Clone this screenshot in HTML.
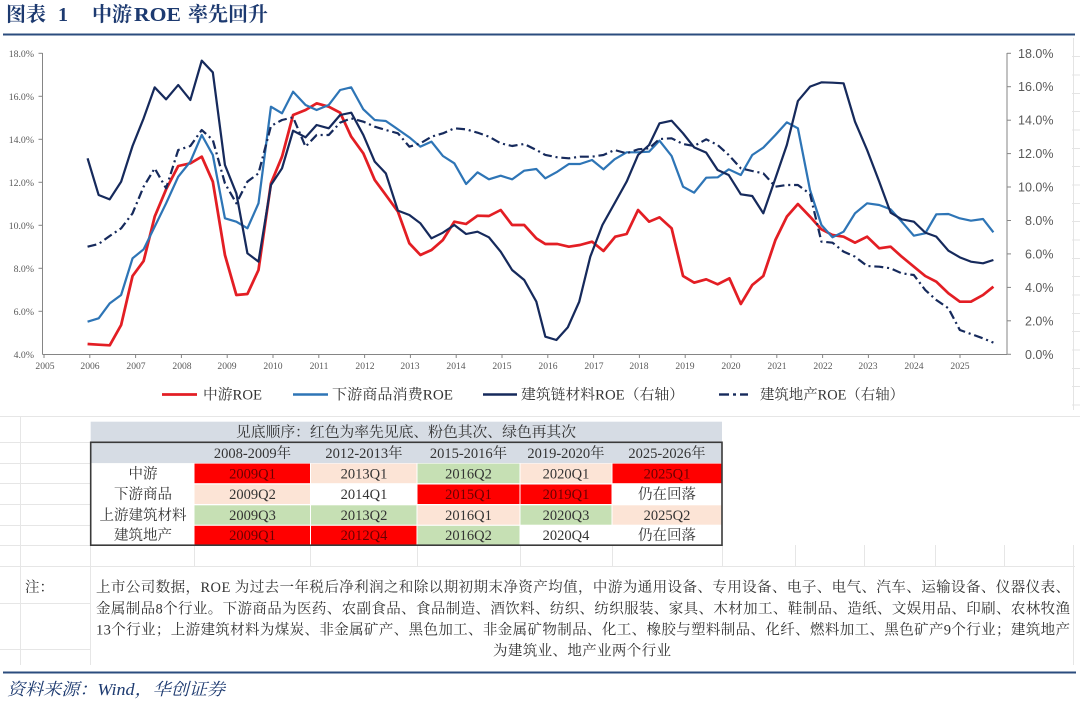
<!DOCTYPE html>
<html><head><meta charset="utf-8">
<style>
html,body{margin:0;padding:0;background:#fff;width:1080px;height:710px;overflow:hidden}
svg{display:block}
</style></head>
<body>
<svg width="1080" height="710" viewBox="0 0 1080 710" xmlns="http://www.w3.org/2000/svg">
<rect x="0" y="0" width="1080" height="710" fill="#fff"/>

<!-- Title -->
<g font-family="'Liberation Serif','Noto Serif CJK SC',serif" font-weight="bold" fill="#1d3a70" font-size="20">
  <text x="6" y="21">图表</text>
  <text x="58" y="21">1</text>
  <text x="92" y="21">中游</text>
  <text x="134" y="21" textLength="47" lengthAdjust="spacingAndGlyphs">ROE</text>
  <text x="188" y="21">率先回升</text>
</g>
<line x1="3" y1="34.5" x2="1075" y2="34.5" stroke="#2b4c7e" stroke-width="2"/>

<!-- faint spreadsheet grid at right edge of chart -->
<g stroke="#e4e4e4" stroke-width="1">
  <line x1="1072" y1="56.5" x2="1080" y2="56.5"/><line x1="1072" y1="75" x2="1080" y2="75"/>
  <line x1="1072" y1="93.5" x2="1080" y2="93.5"/><line x1="1072" y1="111.5" x2="1080" y2="111.5"/>
  <line x1="1072" y1="130" x2="1080" y2="130"/><line x1="1072" y1="148.5" x2="1080" y2="148.5"/>
  <line x1="1072" y1="166.5" x2="1080" y2="166.5"/><line x1="1072" y1="185" x2="1080" y2="185"/>
  <line x1="1072" y1="203.5" x2="1080" y2="203.5"/><line x1="1072" y1="221.5" x2="1080" y2="221.5"/>
  <line x1="1072" y1="240" x2="1080" y2="240"/><line x1="1072" y1="258.5" x2="1080" y2="258.5"/>
  <line x1="1072" y1="276.5" x2="1080" y2="276.5"/><line x1="1072" y1="295" x2="1080" y2="295"/>
  <line x1="1072" y1="313.5" x2="1080" y2="313.5"/><line x1="1072" y1="331.5" x2="1080" y2="331.5"/>
  <line x1="1072" y1="350" x2="1080" y2="350"/><line x1="1072" y1="368.5" x2="1080" y2="368.5"/>
  <line x1="1072" y1="386.5" x2="1080" y2="386.5"/><line x1="1072" y1="405" x2="1080" y2="405"/>
  <line x1="1073.5" y1="38" x2="1073.5" y2="410"/>
</g>

<!-- Axes -->
<g stroke="#858585" stroke-width="1" fill="none">
  <line x1="42.5" y1="53" x2="42.5" y2="354.5"/>
  <line x1="42.5" y1="354.5" x2="1007" y2="354.5"/>
  <line x1="1007" y1="53" x2="1007" y2="354.5"/>
  <!-- left ticks -->
  <line x1="38.5" y1="53.3" x2="42.5" y2="53.3"/><line x1="38.5" y1="96.3" x2="42.5" y2="96.3"/>
  <line x1="38.5" y1="139.3" x2="42.5" y2="139.3"/><line x1="38.5" y1="182.3" x2="42.5" y2="182.3"/>
  <line x1="38.5" y1="225.3" x2="42.5" y2="225.3"/><line x1="38.5" y1="268.3" x2="42.5" y2="268.3"/>
  <line x1="38.5" y1="311.3" x2="42.5" y2="311.3"/>
  <!-- right ticks -->
  <line x1="1007" y1="53.3" x2="1011" y2="53.3"/><line x1="1007" y1="86.7" x2="1011" y2="86.7"/>
  <line x1="1007" y1="120.2" x2="1011" y2="120.2"/><line x1="1007" y1="153.6" x2="1011" y2="153.6"/>
  <line x1="1007" y1="187" x2="1011" y2="187"/><line x1="1007" y1="220.5" x2="1011" y2="220.5"/>
  <line x1="1007" y1="253.9" x2="1011" y2="253.9"/><line x1="1007" y1="287.4" x2="1011" y2="287.4"/>
  <line x1="1007" y1="320.8" x2="1011" y2="320.8"/><line x1="1007" y1="354.3" x2="1011" y2="354.3"/>
  <!-- x ticks -->
  <line x1="44" y1="354.5" x2="44" y2="358"/><line x1="89.8" y1="354.5" x2="89.8" y2="358"/>
  <line x1="135.6" y1="354.5" x2="135.6" y2="358"/><line x1="181.4" y1="354.5" x2="181.4" y2="358"/>
  <line x1="227.2" y1="354.5" x2="227.2" y2="358"/><line x1="273" y1="354.5" x2="273" y2="358"/>
  <line x1="318.8" y1="354.5" x2="318.8" y2="358"/><line x1="364.6" y1="354.5" x2="364.6" y2="358"/>
  <line x1="410.4" y1="354.5" x2="410.4" y2="358"/><line x1="456.2" y1="354.5" x2="456.2" y2="358"/>
  <line x1="502" y1="354.5" x2="502" y2="358"/><line x1="547.8" y1="354.5" x2="547.8" y2="358"/>
  <line x1="593.6" y1="354.5" x2="593.6" y2="358"/><line x1="639.4" y1="354.5" x2="639.4" y2="358"/>
  <line x1="685.2" y1="354.5" x2="685.2" y2="358"/><line x1="731" y1="354.5" x2="731" y2="358"/>
  <line x1="776.8" y1="354.5" x2="776.8" y2="358"/><line x1="822.6" y1="354.5" x2="822.6" y2="358"/>
  <line x1="868.4" y1="354.5" x2="868.4" y2="358"/><line x1="914.2" y1="354.5" x2="914.2" y2="358"/>
  <line x1="960" y1="354.5" x2="960" y2="358"/>
</g>

<!-- Left axis labels -->
<g font-family="'Liberation Serif',serif" font-size="9.8" fill="#595959" text-anchor="end">
  <text x="34" y="56.8">18.0%</text><text x="34" y="99.8">16.0%</text>
  <text x="34" y="142.8">14.0%</text><text x="34" y="185.8">12.0%</text>
  <text x="34" y="228.8">10.0%</text><text x="34" y="271.8">8.0%</text>
  <text x="34" y="314.8">6.0%</text><text x="34" y="357.8">4.0%</text>
</g>
<!-- Right axis labels -->
<g font-family="'Liberation Sans',sans-serif" font-size="12.5" fill="#595959">
  <text x="1018" y="57.8">18.0%</text><text x="1018" y="91.2">16.0%</text>
  <text x="1018" y="124.7">14.0%</text><text x="1018" y="158.1">12.0%</text>
  <text x="1018" y="191.5">10.0%</text><text x="1025" y="225">8.0%</text>
  <text x="1025" y="258.4">6.0%</text><text x="1025" y="291.9">4.0%</text>
  <text x="1025" y="325.3">2.0%</text><text x="1025" y="358.8">0.0%</text>
</g>
<!-- X labels -->
<g font-family="'Liberation Serif',serif" font-size="9.6" fill="#595959" text-anchor="middle">
  <text x="45" y="369">2005</text><text x="90" y="369">2006</text><text x="136" y="369">2007</text>
  <text x="182" y="369">2008</text><text x="227" y="369">2009</text><text x="273" y="369">2010</text>
  <text x="319" y="369">2011</text><text x="365" y="369">2012</text><text x="410" y="369">2013</text>
  <text x="456" y="369">2014</text><text x="502" y="369">2015</text><text x="548" y="369">2016</text>
  <text x="594" y="369">2017</text><text x="639" y="369">2018</text><text x="685" y="369">2019</text>
  <text x="731" y="369">2020</text><text x="777" y="369">2021</text><text x="823" y="369">2022</text>
  <text x="868" y="369">2023</text><text x="914" y="369">2024</text><text x="960" y="369">2025</text>
</g>

<!-- Series -->
<g transform="translate(-1.7,40) scale(0.346,0.33333)" fill="none" stroke-linejoin="round">
  <polyline stroke="#e31e24" stroke-width="8" points="258,912 290,914 322,916 355,855 388,708 420,663 452,530 485,448 520,378 555,370 588,350 620,425 655,645 688,765 720,762 752,690 788,430 820,350 852,225 888,210 920,190 955,200 988,218 1020,290 1055,340 1088,420 1120,465 1155,515 1188,610 1220,645 1252,630 1285,600 1318,545 1352,552 1385,527 1418,528 1452,510 1485,555 1520,555 1555,595 1581,612 1616,612 1649,620 1681,615 1716,605 1749,633 1783,590 1816,582 1849,510 1881,545 1911,532 1946,565 1979,708 2011,728 2046,718 2079,733 2113,715 2146,792 2179,735 2211,708 2246,600 2279,530 2311,492 2346,530 2379,568 2411,585 2443,590 2476,608 2511,590 2546,625 2579,620 2611,650 2646,680 2679,708 2711,725 2746,760 2779,785 2811,785 2846,765 2876,740"/>
  <polyline stroke="#2e75b6" stroke-width="6.5" points="258,845 290,835 322,790 355,765 388,655 420,628 452,560 485,490 520,410 555,365 588,285 620,345 655,535 688,545 720,565 752,490 788,200 820,220 852,155 888,195 920,210 955,195 988,150 1020,142 1055,208 1088,240 1120,243 1155,268 1188,292 1220,320 1252,305 1285,348 1318,370 1352,432 1385,397 1418,418 1452,407 1485,418 1520,392 1555,387 1581,415 1616,395 1649,372 1681,372 1716,360 1749,388 1781,358 1816,337 1849,337 1881,335 1911,302 1946,348 1979,440 2011,458 2046,413 2079,412 2111,388 2146,405 2179,345 2211,323 2246,285 2279,247 2311,265 2346,450 2379,555 2411,592 2443,575 2476,520 2511,490 2546,495 2579,508 2611,545 2646,587 2679,580 2711,523 2746,522 2779,535 2811,542 2846,537 2876,577"/>
  <polyline stroke="#162a5c" stroke-width="6.5" points="258,355 290,465 322,478 355,425 388,318 420,235 452,142 485,178 520,135 555,180 588,62 620,97 655,375 688,460 720,640 752,665 788,435 820,385 852,272 888,292 920,255 955,265 988,225 1020,218 1055,285 1088,365 1120,400 1155,512 1188,525 1220,550 1252,595 1285,578 1318,555 1352,582 1385,575 1418,592 1452,635 1485,690 1520,720 1555,785 1581,890 1613,900 1646,862 1679,785 1711,650 1746,555 1781,490 1816,425 1849,345 1881,315 1911,250 1946,242 1979,280 2011,322 2046,338 2079,390 2111,405 2146,463 2179,468 2211,520 2246,415 2279,315 2311,183 2346,140 2379,127 2411,128 2443,130 2476,245 2511,330 2546,425 2579,518 2611,538 2646,545 2679,578 2711,590 2746,632 2779,652 2811,665 2846,670 2876,660"/>
  <polyline stroke="#162a5c" stroke-width="6.5" stroke-dasharray="26,11,6,11" points="258,620 290,612 322,588 355,565 388,520 420,440 452,385 485,445 520,330 555,318 588,270 620,300 655,430 688,490 720,425 752,400 788,258 820,240 852,232 888,320 920,285 955,285 988,248 1020,235 1055,245 1088,260 1120,270 1155,280 1188,320 1220,310 1252,290 1285,280 1318,265 1352,268 1385,278 1418,290 1452,310 1485,318 1520,312 1555,330 1581,345 1616,352 1649,355 1681,350 1716,350 1749,345 1781,330 1816,340 1849,328 1881,325 1911,297 1946,295 1979,312 2011,318 2046,298 2079,315 2111,345 2146,385 2179,393 2211,400 2246,440 2279,435 2311,435 2346,462 2379,605 2411,608 2443,635 2476,650 2511,678 2546,680 2579,685 2611,700 2646,705 2679,750 2711,780 2746,805 2779,870 2811,882 2846,895 2876,908"/>
</g>

<!-- Legend -->
<g stroke-width="2.4">
  <line x1="162" y1="394.5" x2="197" y2="394.5" stroke="#e31e24" stroke-width="2.7"/>
  <line x1="293" y1="394.5" x2="328" y2="394.5" stroke="#2e75b6"/>
  <line x1="483" y1="394.5" x2="517" y2="394.5" stroke="#162a5c"/>
  <line x1="719" y1="394.5" x2="729" y2="394.5" stroke="#162a5c"/>
  <line x1="733" y1="394.5" x2="736" y2="394.5" stroke="#162a5c"/>
  <line x1="740" y1="394.5" x2="748" y2="394.5" stroke="#162a5c"/>
</g>
<g font-family="'Liberation Serif','Noto Serif CJK SC',serif" font-size="14.5" fill="#333">
  <text x="203" y="399.5" textLength="59" lengthAdjust="spacingAndGlyphs">中游ROE</text>
  <text x="332" y="399.5" textLength="121" lengthAdjust="spacingAndGlyphs">下游商品消费ROE</text>
  <text x="521" y="399.5" textLength="163" lengthAdjust="spacingAndGlyphs">建筑链材料ROE（右轴）</text>
  <text x="760" y="399.5" textLength="144" lengthAdjust="spacingAndGlyphs">建筑地产ROE（右轴）</text>
</g>

<!-- faint spreadsheet grid around table / notes -->
<g stroke="#e6e6e6" stroke-width="1">
  <line x1="0" y1="416.5" x2="1080" y2="416.5"/>
  <line x1="0" y1="442.5" x2="90" y2="442.5"/><line x1="0" y1="463.5" x2="90" y2="463.5"/>
  <line x1="0" y1="483.5" x2="90" y2="483.5"/><line x1="0" y1="504.5" x2="90" y2="504.5"/>
  <line x1="0" y1="525.5" x2="90" y2="525.5"/><line x1="0" y1="545.5" x2="90" y2="545.5"/>
  <line x1="0" y1="566.5" x2="1075" y2="566.5"/>
  <line x1="0" y1="603.5" x2="90" y2="603.5"/><line x1="0" y1="649.5" x2="90" y2="649.5"/>
  <line x1="20.5" y1="416" x2="20.5" y2="665"/>
  <line x1="90.5" y1="545" x2="90.5" y2="665"/>
  <line x1="194.5" y1="545" x2="194.5" y2="566"/><line x1="310.5" y1="545" x2="310.5" y2="566"/>
  <line x1="417.5" y1="545" x2="417.5" y2="566"/><line x1="520.5" y1="545" x2="520.5" y2="566"/>
  <line x1="612.5" y1="545" x2="612.5" y2="566"/><line x1="722.5" y1="545" x2="722.5" y2="566"/>
  <line x1="795.5" y1="545" x2="795.5" y2="566"/><line x1="864.5" y1="545" x2="864.5" y2="566"/>
  <line x1="935.5" y1="545" x2="935.5" y2="566"/><line x1="1004.5" y1="545" x2="1004.5" y2="566"/>
  <line x1="1073.5" y1="545" x2="1073.5" y2="665"/>
</g>

<!-- Table -->
<rect x="90.7" y="421.7" width="631.3" height="20.6" fill="#d6dce4"/>
<rect x="90.7" y="442.3" width="631.3" height="20.8" fill="#d6dce4"/>
<!-- row 1 -->
<rect x="194.5" y="463.6" width="115.5" height="19.6" fill="#ff0000"/>
<rect x="311" y="463.6" width="105.5" height="19.6" fill="#fce4d6"/>
<rect x="417.5" y="463.6" width="102" height="19.6" fill="#c6e0b4"/>
<rect x="520.5" y="463.6" width="91" height="19.6" fill="#fce4d6"/>
<rect x="612.5" y="463.6" width="109" height="19.6" fill="#ff0000"/>
<!-- row 2 -->
<rect x="194.5" y="484.5" width="115.5" height="19.5" fill="#fce4d6"/>
<rect x="417.5" y="484.5" width="102" height="19.5" fill="#ff0000"/>
<rect x="520.5" y="484.5" width="91" height="19.5" fill="#ff0000"/>
<!-- row 3 -->
<rect x="194.5" y="505.3" width="115.5" height="19.4" fill="#c6e0b4"/>
<rect x="311" y="505.3" width="105.5" height="19.4" fill="#c6e0b4"/>
<rect x="417.5" y="505.3" width="102" height="19.4" fill="#fce4d6"/>
<rect x="520.5" y="505.3" width="91" height="19.4" fill="#c6e0b4"/>
<rect x="612.5" y="505.3" width="109" height="19.4" fill="#fce4d6"/>
<!-- row 4 -->
<rect x="194.5" y="525.8" width="115.5" height="18.7" fill="#ff0000"/>
<rect x="311" y="525.8" width="105.5" height="18.7" fill="#ff0000"/>
<rect x="417.5" y="525.8" width="102" height="18.7" fill="#c6e0b4"/>
<rect x="90.7" y="442.3" width="631.3" height="102.9" fill="none" stroke="#3a3a3a" stroke-width="1.6"/>

<g font-family="'Liberation Serif','Noto Serif CJK SC',serif" font-size="14.5" fill="#333" text-anchor="middle">
  <text x="406" y="437" textLength="340" lengthAdjust="spacingAndGlyphs">见底顺序：红色为率先见底、粉色其次、绿色再其次</text>
  <text x="252.5" y="457.8">2008-2009年</text>
  <text x="364" y="457.8">2012-2013年</text>
  <text x="468.5" y="457.8">2015-2016年</text>
  <text x="566" y="457.8">2019-2020年</text>
  <text x="667" y="457.8">2025-2026年</text>

  <text x="143" y="478.3">中游</text>
  <text x="252.5" y="478.3" fill="#6a0000">2009Q1</text>
  <text x="364" y="478.3">2013Q1</text>
  <text x="468.5" y="478.3">2016Q2</text>
  <text x="566" y="478.3">2020Q1</text>
  <text x="667" y="478.3" fill="#6a0000">2025Q1</text>

  <text x="143" y="499.2">下游商品</text>
  <text x="252.5" y="499.2">2009Q2</text>
  <text x="364" y="499.2">2014Q1</text>
  <text x="468.5" y="499.2" fill="#6a0000">2015Q1</text>
  <text x="566" y="499.2" fill="#6a0000">2019Q1</text>
  <text x="667" y="499.2">仍在回落</text>

  <text x="143" y="519.8">上游建筑材料</text>
  <text x="252.5" y="519.8">2009Q3</text>
  <text x="364" y="519.8">2013Q2</text>
  <text x="468.5" y="519.8">2016Q1</text>
  <text x="566" y="519.8">2020Q3</text>
  <text x="667" y="519.8">2025Q2</text>

  <text x="143" y="540.2">建筑地产</text>
  <text x="252.5" y="540.2" fill="#6a0000">2009Q1</text>
  <text x="364" y="540.2" fill="#6a0000">2012Q4</text>
  <text x="468.5" y="540.2">2016Q2</text>
  <text x="566" y="540.2">2020Q4</text>
  <text x="667" y="540.2">仍在回落</text>
</g>

<!-- Notes -->
<g font-family="'Liberation Serif','Noto Serif CJK SC',serif" font-size="14.5" fill="#333">
  <text x="25" y="592">注：</text>
  <text x="96" y="592" textLength="974" lengthAdjust="spacing">上市公司数据，ROE 为过去一年税后净利润之和除以期初期末净资产均值，中游为通用设备、专用设备、电子、电气、汽车、运输设备、仪器仪表、</text>
  <text x="96" y="613.5" textLength="974" lengthAdjust="spacing">金属制品8个行业。下游商品为医药、农副食品、食品制造、酒饮料、纺织、纺织服装、家具、木材加工、鞋制品、造纸、文娱用品、印刷、农林牧渔</text>
  <text x="96" y="634.5" textLength="974" lengthAdjust="spacing">13个行业；上游建筑材料为煤炭、非金属矿产、黑色加工、非金属矿物制品、化工、橡胶与塑料制品、化纤、燃料加工、黑色矿产9个行业；建筑地产</text>
  <text x="493" y="655.5" textLength="178" lengthAdjust="spacing">为建筑业、地产业两个行业</text>
</g>

<line x1="3" y1="672.5" x2="1076" y2="672.5" stroke="#2b4c7e" stroke-width="2"/>
<text x="7" y="695" font-family="'Liberation Serif','Noto Serif CJK SC',serif" font-style="italic" font-size="17" fill="#1d3a70" textLength="218" lengthAdjust="spacingAndGlyphs">资料来源：Wind，华创证券</text>
</svg>
</body></html>
